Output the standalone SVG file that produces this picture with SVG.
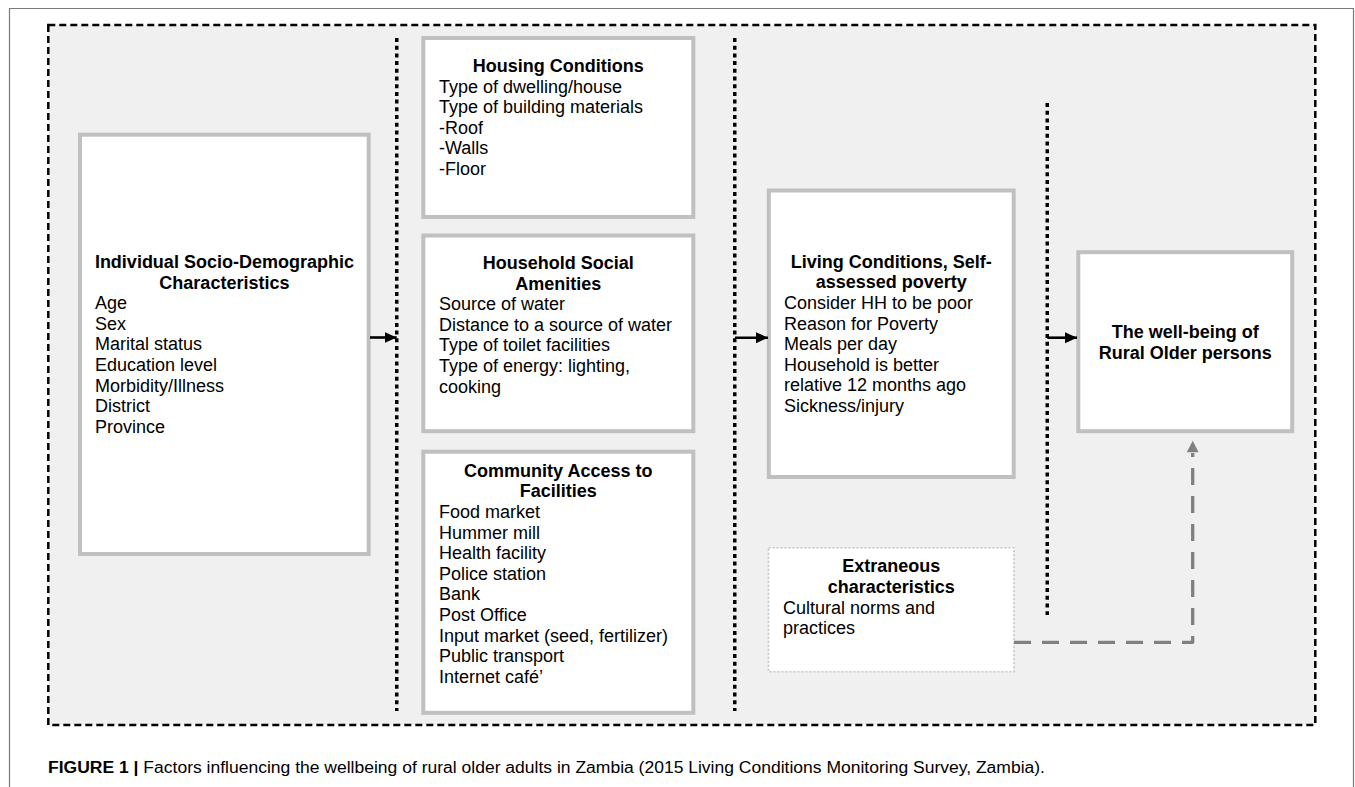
<svg xmlns="http://www.w3.org/2000/svg" width="1355" height="787" viewBox="0 0 1355 787">
<defs>
<style>
.t{font-family:"Liberation Sans",Arial,sans-serif;font-size:18px;fill:#000}
.b{font-weight:bold;text-anchor:middle}
.box{fill:#fff;stroke:#c0c0c0;stroke-width:4}
.dot{stroke:#000;stroke-width:3.5;stroke-dasharray:4 3.7;fill:none}
.arr{stroke:#000;stroke-width:2.6;fill:none;marker-end:url(#ah)}
</style>
<marker id="ah" viewBox="0 0 12 12" markerWidth="12" markerHeight="12" refX="12" refY="6" orient="auto" markerUnits="userSpaceOnUse">
<path d="M0,0.5 L12,6 L0,11.5 z" fill="#000"/>
</marker>
</defs>
<rect x="0" y="0" width="1355" height="787" fill="#fff"/>
<path d="M9.5,787 V8.5 H1353.5 V787" fill="none" stroke="#7a7a7a" stroke-width="1.2"/>
<rect id="frame" x="48.3" y="25" width="1267" height="700" fill="#f0f0f0" stroke="#000" stroke-width="2.5" stroke-dasharray="7 4"/>

<g id="separators">
<line class="dot" x1="396.75" y1="38" x2="396.75" y2="711"/>
<line class="dot" x1="734.75" y1="38" x2="734.75" y2="711"/>
<line class="dot" x1="1047.25" y1="103" x2="1047.25" y2="615"/>
</g>

<g id="n-individual">
<rect class="box" x="80" y="134.7" width="288.7" height="419.3"/>
<text class="t b" x="224.4" y="268">Individual Socio-Demographic</text>
<text class="t b" x="224.4" y="288.6">Characteristics</text>
<text class="t" x="95">
<tspan x="95" y="309.2">Age</tspan>
<tspan x="95" y="329.8">Sex</tspan>
<tspan x="95" y="350.4">Marital status</tspan>
<tspan x="95" y="371">Education level</tspan>
<tspan x="95" y="391.6">Morbidity/Illness</tspan>
<tspan x="95" y="412.2">District</tspan>
<tspan x="95" y="432.8">Province</tspan>
</text>
</g>

<g id="n-housing">
<rect class="box" x="423.3" y="38" width="270" height="179"/>
<text class="t b" x="558.3" y="72">Housing Conditions</text>
<text class="t" x="439">
<tspan x="439" y="92.6">Type of dwelling/house</tspan>
<tspan x="439" y="113.2">Type of building materials</tspan>
<tspan x="439" y="133.8">-Roof</tspan>
<tspan x="439" y="154.4">-Walls</tspan>
<tspan x="439" y="175">-Floor</tspan>
</text>
</g>

<g id="n-amenities">
<rect class="box" x="423.3" y="235.5" width="270" height="195.7"/>
<text class="t b" x="558.3" y="269">Household Social</text>
<text class="t b" x="558.3" y="289.6">Amenities</text>
<text class="t" x="439">
<tspan x="439" y="310.2">Source of water</tspan>
<tspan x="439" y="330.8">Distance to a source of water</tspan>
<tspan x="439" y="351.4">Type of toilet facilities</tspan>
<tspan x="439" y="372">Type of energy: lighting,</tspan>
<tspan x="439" y="392.6">cooking</tspan>
</text>
</g>

<g id="n-community">
<rect class="box" x="423.3" y="451.7" width="270" height="261.1"/>
<text class="t b" x="558.3" y="476.7">Community Access to</text>
<text class="t b" x="558.3" y="497.3">Facilities</text>
<text class="t" x="439">
<tspan x="439" y="517.9">Food market</tspan>
<tspan x="439" y="538.5">Hummer mill</tspan>
<tspan x="439" y="559.1">Health facility</tspan>
<tspan x="439" y="579.7">Police station</tspan>
<tspan x="439" y="600.3">Bank</tspan>
<tspan x="439" y="620.9">Post Office</tspan>
<tspan x="439" y="641.5">Input market (seed, fertilizer)</tspan>
<tspan x="439" y="662.1">Public transport</tspan>
<tspan x="439" y="682.7">Internet café’</tspan>
</text>
</g>

<g id="n-living">
<rect class="box" x="768.8" y="190.5" width="244.9" height="286.5"/>
<text class="t b" x="891.3" y="267.7">Living Conditions, Self-</text>
<text class="t b" x="891.3" y="288.3">assessed poverty</text>
<text class="t" x="784">
<tspan x="784" y="308.9">Consider HH to be poor</tspan>
<tspan x="784" y="329.5">Reason for Poverty</tspan>
<tspan x="784" y="350.1">Meals per day</tspan>
<tspan x="784" y="370.7">Household is better</tspan>
<tspan x="784" y="391.3">relative 12 months ago</tspan>
<tspan x="784" y="411.9">Sickness/injury</tspan>
</text>
</g>

<g id="n-wellbeing">
<rect class="box" x="1078.3" y="252.2" width="213.9" height="179"/>
<text class="t b" x="1185.2" y="338">The well-being of</text>
<text class="t b" x="1185.2" y="358.6">Rural Older persons</text>
</g>

<g id="n-extraneous">
<rect x="768.5" y="547.7" width="245.5" height="124" fill="#fff" stroke="#c4c4c4" stroke-width="1.6" stroke-dasharray="2 2"/>
<text class="t b" x="891.3" y="572.3">Extraneous</text>
<text class="t b" x="891.3" y="592.9">characteristics</text>
<text class="t" x="783">
<tspan x="783" y="613.5">Cultural norms and</tspan>
<tspan x="783" y="634.1">practices</tspan>
</text>
</g>

<g id="connectors">
<line class="arr" x1="370" y1="337.5" x2="396.7" y2="337.5"/>
<line class="arr" x1="735" y1="337.7" x2="768" y2="337.7"/>
<line class="arr" x1="1047.3" y1="337.7" x2="1077" y2="337.7"/>
<path d="M1014,642.3 H1192.7 V453" fill="none" stroke="#808080" stroke-width="3.3" stroke-dasharray="17 11" stroke-linejoin="round"/>
<path d="M1186.8,452.3 L1192.7,440.7 L1198.6,452.3 z" fill="#808080"/>
</g>

<text class="t" x="48" y="773" style="font-size:16px" textLength="997" lengthAdjust="spacingAndGlyphs"><tspan font-weight="bold">FIGURE 1</tspan> <tspan font-weight="bold">|</tspan> Factors influencing the wellbeing of rural older adults in Zambia (2015 Living Conditions Monitoring Survey, Zambia).</text>
</svg>
